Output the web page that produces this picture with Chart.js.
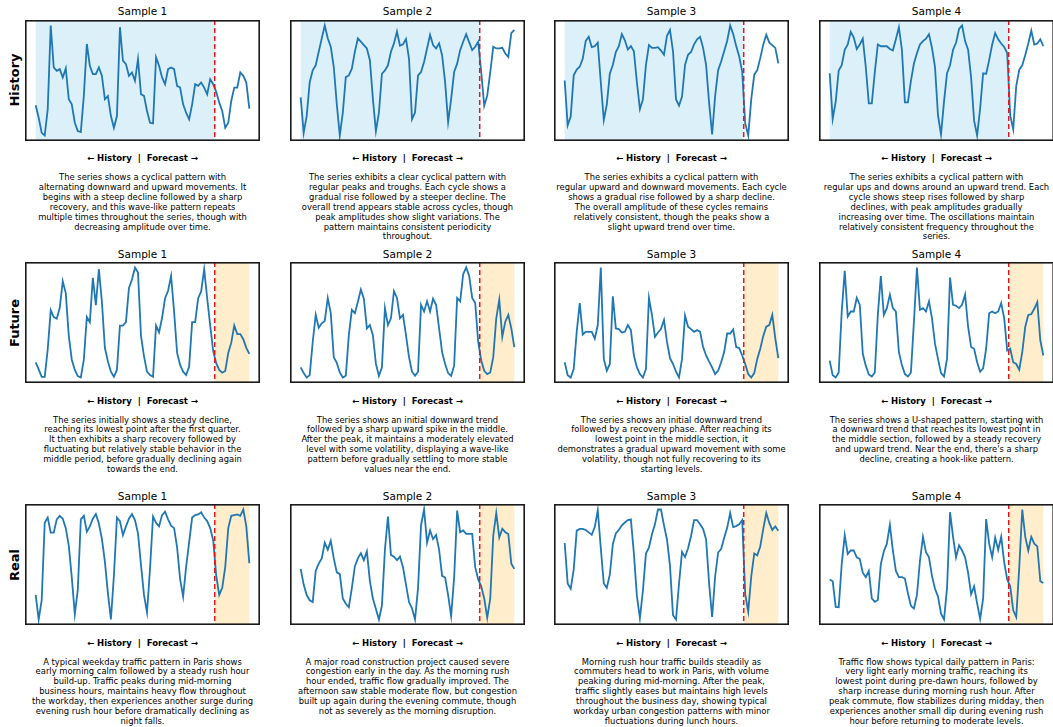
<!DOCTYPE html>
<html>
<head>
<meta charset="utf-8">
<script src="https://cdn.jsdelivr.net/npm/chart.js"></script>
<style>
body{ margin:0; background:#fff; font-family:"DejaVu Sans", sans-serif; color:#000; }
#fig{ position:relative; width:1053px; height:727px; overflow:hidden; }
canvas{ position:absolute; }
.title{ position:absolute; font-size:10.5px; white-space:nowrap; transform:translate(-50%,-50%); }
.split{ position:absolute; font-size:8.5px; font-weight:bold; white-space:pre; transform:translate(-50%,-50%); }
.caption{ position:absolute; font-size:8.4px; line-height:9.9px; white-space:nowrap; text-align:center; transform:translateX(-50%); }
.rowlabel{ position:absolute; font-size:13px; font-weight:bold; white-space:nowrap; transform:translate(-50%,-50%) rotate(-90deg); }
</style>
</head>
<body>
<div id="fig"></div>
<script>
// values (2-hour steps, 6 days, forecast = last day)
var history1 = [112,75,30,22,100,350,225,215,220,195,222,130,115,60,35,32,140,295,230,205,205,225,200,130,140,80,45,80,345,245,235,200,210,185,250,145,140,95,60,58,255,230,195,175,220,225,220,170,165,115,90,70,115,175,170,180,165,145,190,175,152,120,95,45,60,125,165,165,210,200,180,102];
var history2 = [135,30,80,180,215,230,270,310,348,310,285,225,115,22,90,195,200,220,270,310,300,290,280,245,130,35,90,205,215,230,270,295,330,288,292,308,250,70,90,200,210,240,280,320,290,280,295,260,180,62,130,210,235,275,300,322,298,275,285,300,210,110,140,210,285,280,280,282,265,255,325,335];
var history3 = [185,55,80,200,217,225,248,300,312,282,285,295,180,70,115,205,230,268,285,320,302,275,285,270,180,102,130,230,288,280,280,282,272,260,315,332,270,130,112,138,230,260,268,290,305,312,280,230,120,28,140,215,240,270,300,345,320,285,255,210,60,25,130,202,215,250,290,318,295,288,280,235];
var history4 = [202,70,120,210,225,270,285,322,305,272,285,302,220,115,115,205,285,280,280,280,272,268,300,335,270,118,118,180,230,260,285,295,302,315,275,220,80,25,120,202,225,270,290,330,340,295,270,190,65,22,100,202,200,240,285,318,300,288,278,260,80,40,165,212,225,255,288,325,285,288,300,280];

var future1 = [72,52,30,30,110,225,205,200,232,310,275,150,80,50,32,28,80,205,190,320,240,345,250,115,75,45,30,50,180,180,190,290,315,350,335,150,90,45,35,30,180,160,202,260,282,325,220,100,65,45,35,60,190,190,260,280,345,260,180,105,70,50,42,47,100,130,180,155,155,140,115,97];
var future2 = [55,38,25,32,130,210,172,185,192,260,215,85,68,40,25,30,150,225,215,248,285,258,170,180,150,65,30,55,230,180,200,280,260,200,210,150,85,42,30,42,240,220,250,220,258,240,170,100,65,38,30,60,260,250,330,350,325,260,245,130,75,45,35,40,85,200,255,145,190,210,170,115];
var future3 = [70,32,25,50,160,245,152,160,160,160,140,180,350,80,45,65,265,170,168,158,160,180,165,90,55,35,25,50,260,210,145,158,168,195,130,82,65,42,25,80,208,175,168,160,165,160,115,90,72,55,35,45,70,100,155,155,167,115,112,90,65,35,25,38,80,110,148,175,180,210,140,82];
var future4 = [75,32,25,40,220,340,205,220,220,260,240,95,60,34,28,40,210,325,210,230,270,230,220,100,62,35,28,40,190,350,225,230,220,250,200,125,80,38,28,80,320,240,237,230,240,270,175,115,110,70,42,52,110,215,220,215,220,245,200,105,110,70,65,48,100,175,210,212,228,248,135,90];

var real1 = [105,35,90,310,325,282,282,320,330,322,295,245,155,50,120,320,330,285,300,322,335,308,265,200,110,35,160,325,315,275,300,322,335,318,280,190,105,55,180,328,310,300,332,342,320,302,295,240,150,100,185,255,325,332,334,340,325,315,295,260,160,105,125,185,295,330,332,334,330,348,300,195];
var real2 = [175,130,100,85,80,170,190,205,250,230,255,205,165,160,90,75,65,120,182,205,220,200,225,140,90,60,30,70,230,325,215,210,200,210,180,130,80,62,30,120,300,345,250,285,260,272,230,155,150,100,40,150,342,280,285,275,275,275,180,145,125,90,35,90,270,335,265,290,280,275,190,175];
var real3 = [245,130,115,170,280,285,285,282,275,268,290,338,230,130,118,155,242,272,282,295,303,310,312,215,95,32,110,215,232,270,298,340,340,295,255,180,40,28,130,220,205,230,265,310,310,298,285,255,130,35,150,218,228,260,288,330,290,293,298,310,100,50,150,215,210,235,285,330,302,282,292,280];
var real4 = [145,140,65,64,190,275,220,230,230,210,205,165,152,170,90,80,85,190,228,250,305,230,170,152,152,148,105,68,60,100,200,270,225,210,155,118,95,45,28,120,342,270,210,245,230,210,165,102,125,75,30,90,322,250,210,268,232,270,195,145,125,55,35,180,350,270,230,270,250,242,140,135];

var rowNames = ['History', 'Future', 'Real'];
var sampleTitles = ['Sample 1', 'Sample 2', 'Sample 3', 'Sample 4'];
var rows = [
	[history1, history2, history3, history4],
	[future1, future2, future3, future4],
	[real1, real2, real3, real4]
];
var splitAt = 59.5;

var captions = [
	[
		['The series shows a cyclical pattern with','alternating downward and upward movements. It','begins with a steep decline followed by a sharp','recovery, and this wave-like pattern repeats','multiple times throughout the series, though with','decreasing amplitude over time.'],
		['The series exhibits a clear cyclical pattern with','regular peaks and troughs. Each cycle shows a','gradual rise followed by a steeper decline. The','overall trend appears stable across cycles, though','peak amplitudes show slight variations. The','pattern maintains consistent periodicity','throughout.'],
		['The series exhibits a cyclical pattern with','regular upward and downward movements. Each cycle','shows a gradual rise followed by a sharp decline.','The overall amplitude of these cycles remains','relatively consistent, though the peaks show a','slight upward trend over time.'],
		['The series exhibits a cyclical pattern with','regular ups and downs around an upward trend. Each','cycle shows steep rises followed by sharp','declines, with peak amplitudes gradually','increasing over time. The oscillations maintain','relatively consistent frequency throughout the','series.']
	],
	[
		['The series initially shows a steady decline,','reaching its lowest point after the first quarter.','It then exhibits a sharp recovery followed by','fluctuating but relatively stable behavior in the','middle period, before gradually declining again','towards the end.'],
		['The series shows an initial downward trend','followed by a sharp upward spike in the middle.','After the peak, it maintains a moderately elevated','level with some volatility, displaying a wave-like','pattern before gradually settling to more stable','values near the end.'],
		['The series shows an initial downward trend','followed by a recovery phase. After reaching its','lowest point in the middle section, it','demonstrates a gradual upward movement with some','volatility, though not fully recovering to its','starting levels.'],
		['The series shows a U-shaped pattern, starting with','a downward trend that reaches its lowest point in','the middle section, followed by a steady recovery','and upward trend. Near the end, there\'s a sharp','decline, creating a hook-like pattern.']
	],
	[
		['A typical weekday traffic pattern in Paris shows','early morning calm followed by a steady rush hour','build-up. Traffic peaks during mid-morning','business hours, maintains heavy flow throughout','the workday, then experiences another surge during','evening rush hour before dramatically declining as','night falls.'],
		['A major road construction project caused severe','congestion early in the day. As the morning rush','hour ended, traffic flow gradually improved. The','afternoon saw stable moderate flow, but congestion','built up again during the evening commute, though','not as severely as the morning disruption.'],
		['Morning rush hour traffic builds steadily as','commuters head to work in Paris, with volume','peaking during mid-morning. After the peak,','traffic slightly eases but maintains high levels','throughout the business day, showing typical','workday urban congestion patterns with minor','fluctuations during lunch hours.'],
		['Traffic flow shows typical daily pattern in Paris:','very light early morning traffic, reaching its','lowest point during pre-dawn hours, followed by','sharp increase during morning rush hour. After','peak commute, flow stabilizes during midday, then','experiences another small dip during evening rush','hour before returning to moderate levels.']
	]
];

var colLeft = [25, 290, 554, 819];
var rowTop = [19.5, 262, 504];
var boxW = 235, boxH = 121;

// shading, split line and frame
var panelDecor = {
	id: 'panelDecor',
	beforeDatasetsDraw: function(chart) {
		var o = chart.options.plugins.panelDecor;
		var ctx = chart.ctx, area = chart.chartArea, xs = chart.scales.x;
		var a = xs.getPixelForValue(o.shadeFrom), b = xs.getPixelForValue(o.shadeTo);
		ctx.save();
		ctx.fillStyle = o.shadeColor;
		ctx.fillRect(a, area.top, b - a, area.bottom - area.top);
		ctx.restore();
	},
	afterDatasetsDraw: function(chart) {
		var o = chart.options.plugins.panelDecor;
		var ctx = chart.ctx, area = chart.chartArea, xs = chart.scales.x;
		var s = xs.getPixelForValue(o.split);
		ctx.save();
		ctx.strokeStyle = '#e8141c';
		ctx.lineWidth = 1.5;
		ctx.setLineDash([5, 3]);
		ctx.beginPath();
		ctx.moveTo(s, area.top);
		ctx.lineTo(s, area.bottom);
		ctx.stroke();
		ctx.setLineDash([]);
		ctx.strokeStyle = '#1a1a1a';
		ctx.lineWidth = 1.6;
		ctx.strokeRect(area.left + 0.8, area.top + 0.8, area.right - area.left - 1.6, area.bottom - area.top - 1.6);
		ctx.restore();
	}
};

function addDiv(cls, x, y, html) {
	var d = document.createElement('div');
	d.className = cls;
	d.style.left = x + 'px';
	d.style.top = y + 'px';
	d.innerHTML = html;
	document.getElementById('fig').appendChild(d);
	return d;
}

window.onload = function() {
	var fig = document.getElementById('fig');
	for (var r = 0; r < rows.length; r++) {
		addDiv('rowlabel', 14, rowTop[r] + boxH / 2, rowNames[r]);
		for (var c = 0; c < 4; c++) {
			var vals = rows[r][c];
			var n = vals.length;
			var cx = colLeft[c] + boxW / 2;
			addDiv('title', cx, rowTop[r] - 8.5, sampleTitles[c]);
			addDiv('split', cx, rowTop[r] + boxH + 17.5, '\u2190 History  |  Forecast \u2192');
			addDiv('caption', cx, rowTop[r] + boxH + 32.5, captions[r][c].join('<br>'));

			var cv = document.createElement('canvas');
			cv.width = boxW; cv.height = boxH;
			cv.style.left = colLeft[c] + 'px';
			cv.style.top = rowTop[r] + 'px';
			cv.style.width = boxW + 'px';
			cv.style.height = boxH + 'px';
			fig.appendChild(cv);

			var lo = Math.min.apply(null, vals), hi = Math.max.apply(null, vals);
			var pad = (hi - lo) * 0.05;
			var pts = vals.map(function(v, i) { return {x: i, y: v}; });
			var isHist = (r === 0);

			new Chart(cv.getContext('2d'), {
				type: 'line',
				data: { datasets: [{ data: pts, borderColor: '#1f77b4', borderWidth: 1.8, pointRadius: 0, tension: 0, fill: false }] },
				options: {
					responsive: false,
					animation: false,
					layout: { padding: 0 },
					scales: {
						x: { type: 'linear', display: false, min: -0.05 * (n - 1), max: (n - 1) * 1.05 },
						y: { display: false, min: lo - pad, max: hi + pad }
					},
					plugins: {
						legend: { display: false },
						tooltip: { enabled: false },
						panelDecor: {
							split: splitAt,
							shadeFrom: isHist ? 0 : splitAt,
							shadeTo: isHist ? splitAt : n - 1,
							shadeColor: isHist ? 'rgb(219,240,249)' : 'rgb(255,237,204)'
						}
					}
				},
				plugins: [panelDecor]
			});
		}
	}
};
</script>
</body>
</html>
